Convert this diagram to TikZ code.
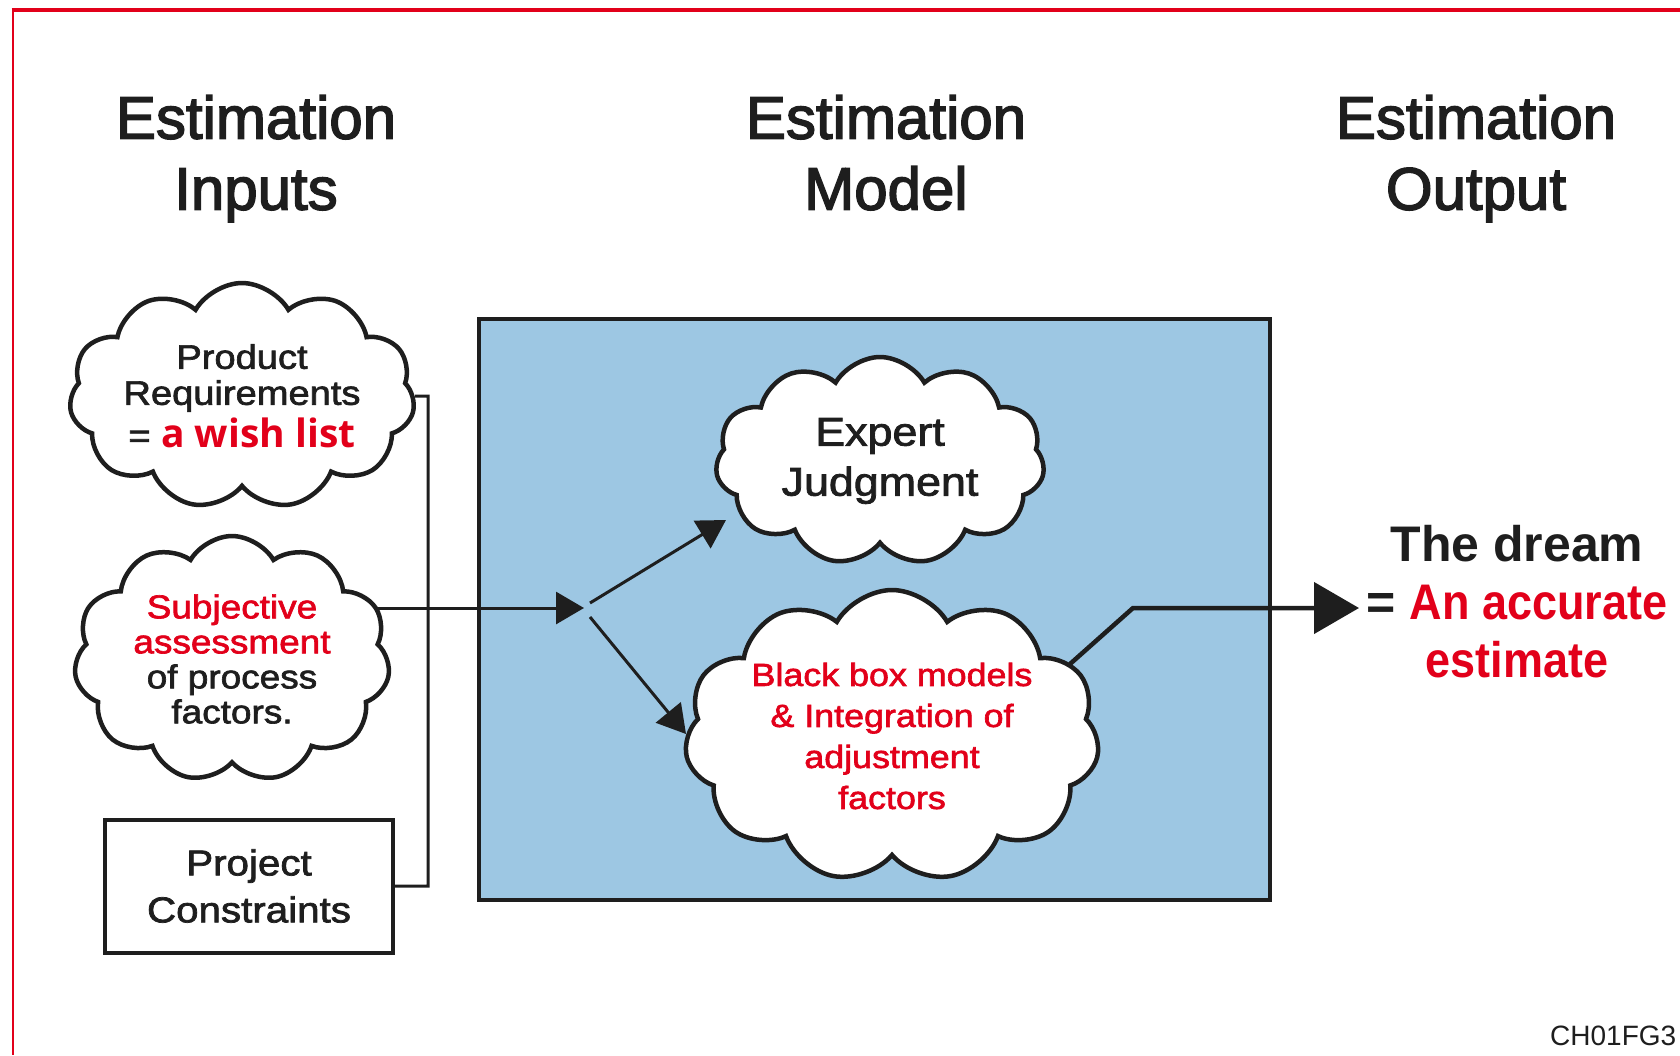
\documentclass[tikz,border=0pt]{standalone}
\usepackage{fontspec}
\setmainfont{Liberation Sans}
\newfontfamily\headsf[FakeBold=2.5]{Liberation Sans}
\newfontfamily\widesf[FakeStretch=1.12,FakeBold=2]{Liberation Sans}
\newfontfamily\narrowsf[FakeStretch=0.9]{Liberation Sans}
\newfontfamily\wishfont{Open Sans}
\usetikzlibrary{shapes.symbols,arrows.meta}
\definecolor{figred}{HTML}{E2001A}
\definecolor{figblue}{HTML}{9DC7E3}
\definecolor{ink}{HTML}{1E1E1E}
\pgfdeclarelayer{box}
\pgfdeclarelayer{wires}
\pgfsetlayers{box,wires,main}
\tikzset{
  heading/.style={anchor=north, align=center, inner sep=0pt, text=ink, font=\headsf\fontsize{60}{71}\selectfont},
  puff/.style={cloud, cloud puffs=11, cloud puff arc=120, cloud ignores aspect, draw=ink, fill=white,
    line width=4.5pt, align=center, inner sep=0pt, text=ink},
  wire/.style={draw=ink, line width=3pt},
  tip/.style={-{Triangle[length=28pt,width=32pt]}},
  bigtip/.style={-{Triangle[length=45pt,width=51pt]}},
}

\begin{document}
\begin{tikzpicture}[x=1pt,y=-1pt]
  \useasboundingbox (0,0) rectangle (1680,1055);
  \draw [figred, line width=3.5pt] (11.5,10) -- (1680,10);
  \draw [figred, line width=2pt] (12.5,10) -- (12.5,1055);

  \node [heading] (hin)  at (256,95)  {Estimation\\Inputs};
  \node [heading] (hmod) at (886,95)  {Estimation\\Model};
  \node [heading] (hout) at (1476,95) {Estimation\\Output};

  \begin{pgfonlayer}{box}
    \draw [fill=figblue, draw=ink, line width=4pt] (479,319) rectangle (1270,900);
  \end{pgfonlayer}

  \node [puff, minimum width=326pt, minimum height=226pt, font=\widesf\fontsize{34}{36}\selectfont]
    (req) at (242,396) {Product\\Requirements\\[5pt]= {\wishfont\bfseries\fontsize{39}{40}\selectfont\color{figred}a wish list}};
  \node [puff, minimum width=316pt, minimum height=246pt, font=\widesf\fontsize{33}{35}\selectfont]
    (subj) at (232,659) {\textcolor{figred}{Subjective}\\\textcolor{figred}{assessment}\\of process\\factors.};
  \node [draw=ink, line width=4pt, minimum width=288pt, minimum height=133pt, align=center,
    text=ink, font=\widesf\fontsize{36}{47}\selectfont] (pc) at (249,886) {Project\\Constraints};

  \node [puff, minimum width=329pt, minimum height=208pt, font=\widesf\fontsize{40}{50}\selectfont]
    (ej) at (880,461) {Expert\\Judgment};
  \node [puff, minimum width=396pt, minimum height=292pt, text=figred, font=\widesf\fontsize{32}{41}\selectfont]
    (bbm) at (892,736) {Black box models\\\& Integration of\\adjustment\\factors};

  \node [anchor=north, align=center, inner sep=0pt, text=ink, font=\bfseries\fontsize{50}{58}\selectfont]
    (dream) at (1517,525) {The dream\\= {\narrowsf\bfseries\color{figred}An accurate}\\{\narrowsf\bfseries\color{figred}estimate}};
  \node [anchor=base west, inner sep=0pt, text=ink, font=\fontsize{28}{30}\selectfont]
    (code) at (1550,1045) {CH01FG3};

  \coordinate (bus)   at (428,608);
  \coordinate (fork)  at (584,608);
  \coordinate (forka) at (590,603);
  \coordinate (forkb) at (590,617);
  \coordinate (ejin)  at (726,520);
  \coordinate (bbin)  at (686,734);
  \coordinate (bbout) at (1070,664);
  \coordinate (bend)  at (1133,608);
  \coordinate (goal)  at (1359,608);

  \begin{pgfonlayer}{wires}
    \draw [wire] (req) -- (req -| bus) -- (pc -| bus) -- (pc);
    \draw [wire, tip] (subj |- bus) -- (fork);
    \draw [wire, tip] (forka) -- (ejin);
    \draw [wire, tip] (forkb) -- (bbin);
    \draw [wire, line width=4.5pt, bigtip] (bbout) -- (bend) -- (goal);
  \end{pgfonlayer}
\end{tikzpicture}
\end{document}
